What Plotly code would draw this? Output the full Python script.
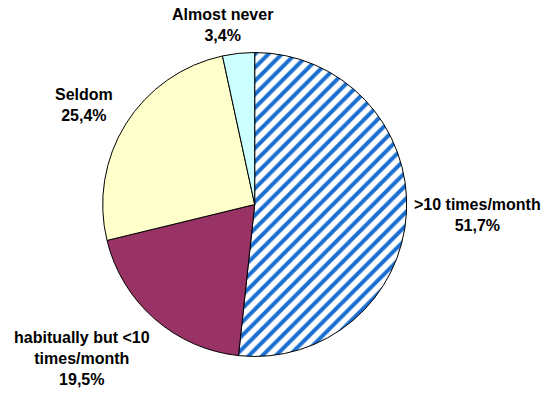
import plotly.graph_objects as go

# Frequency categories, clockwise from 12 o'clock
categories = [">10 times/month", "habitually but <10 times/month", "Seldom", "Almost never"]
shares = [51.7, 19.5, 25.4, 3.4]
# Label text as it is broken over lines beside each slice
label_lines = [[">10 times/month"], ["habitually but &lt;10", "times/month"], ["Seldom"], ["Almost never"]]

slice_colors = ["#FFFFFF", "#993366", "#FFFFCC", "#CCFFFF"]
slice_patterns = ["/", "", "", ""]

W, H = 544, 394

fig = go.Figure(
    go.Pie(
        labels=categories,
        values=shares,
        sort=False,
        direction="clockwise",
        rotation=0,
        textinfo="none",
        hoverinfo="label+percent",
        showlegend=False,
        marker=dict(
            colors=slice_colors,
            line=dict(color="#000000", width=1),
            pattern=dict(
                shape=slice_patterns,
                fgcolor="#1A6FD0",
                size=9.5,
                solidity=0.42,
            ),
        ),
        domain=dict(x=[0.1888, 0.7476], y=[0.0952, 0.8668]),
    )
)

# Label block centres, in pixels from the top-left corner
label_pos = [(477, 214.5), (82, 358), (84, 105), (222, 25)]

for lines, val, (px, py) in zip(label_lines, shares, label_pos):
    pct = f"{val:.1f}%".replace(".", ",")
    fig.add_annotation(
        text="<br>".join(lines + [pct]),
        x=px / W,
        y=1 - py / H,
        xref="paper",
        yref="paper",
        xanchor="center",
        yanchor="middle",
        showarrow=False,
        align="center",
        font=dict(family="Liberation Sans, Arial, sans-serif", size=16, color="#000000", weight="bold"),
    )

fig.update_layout(
    width=W,
    height=H,
    margin=dict(l=0, r=0, t=0, b=0),
    paper_bgcolor="#FFFFFF",
    plot_bgcolor="#FFFFFF",
)

fig.write_html("out.html")
